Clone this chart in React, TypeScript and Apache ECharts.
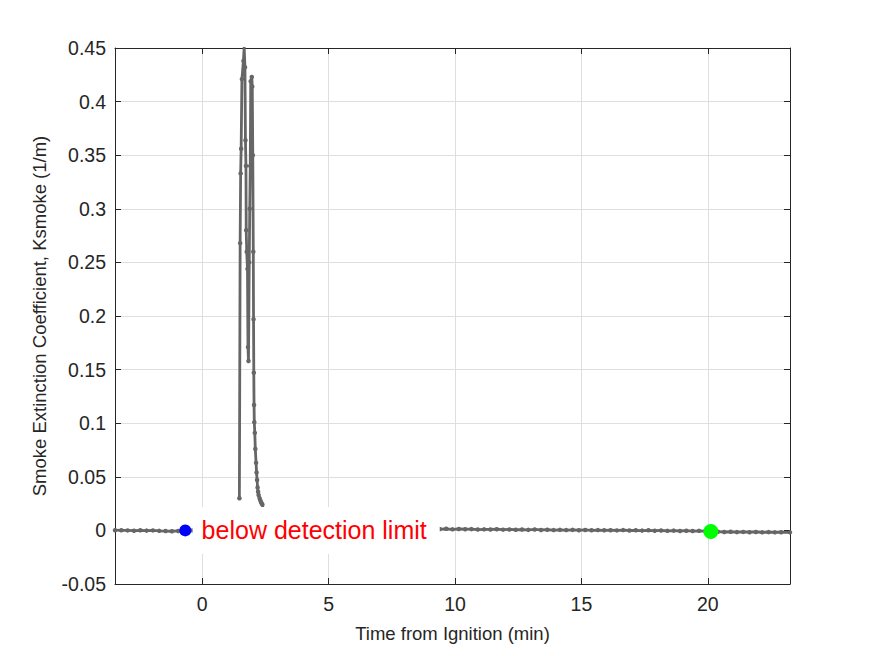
import React, { useEffect, useRef } from "react";
import * as echarts from "echarts";

// Time from ignition (min) and smoke extinction coefficient Ksmoke (1/m)
const preTime = [-3.45, -3.2, -2.95, -2.7, -2.45, -2.2, -1.95, -1.7, -1.45, -1.2, -0.95, -0.67, -0.4, 0.0, 0.5, 1.0, 1.45];
const preK = [0.0002, 0.0001, 0.0, -0.0003, 0.0001, -0.0002, 0.0, -0.0004, -0.0006, -0.0008, -0.0005, -0.0003, 0.0, 0.0, 0.0002, 0.0001, 0.0];

const peakTime = [1.47, 1.5, 1.52, 1.54, 1.57, 1.63, 1.66, 1.69, 1.71, 1.73, 1.74, 1.76, 1.79, 1.81, 1.83, 1.86, 1.88, 1.9, 1.92, 1.96, 1.98, 2.0, 2.02, 2.03, 2.04, 2.05, 2.06, 2.08, 2.1, 2.13, 2.15, 2.17, 2.19, 2.21, 2.23, 2.27, 2.3, 2.33, 2.36, 2.38];
const peakK = [0.03, 0.268, 0.333, 0.356, 0.421, 0.438, 0.451, 0.432, 0.364, 0.34, 0.28, 0.26, 0.244, 0.171, 0.158, 0.25, 0.3, 0.34, 0.419, 0.423, 0.414, 0.35, 0.26, 0.197, 0.147, 0.117, 0.101, 0.091, 0.076, 0.063, 0.054, 0.047, 0.04, 0.036, 0.033, 0.03, 0.028, 0.026, 0.025, 0.024];

const postTime = [2.45, 2.6, 2.8, 3.2, 4.0, 5.0, 6.0, 7.0, 8.0, 9.0, 9.4, 9.65, 9.9, 10.15, 10.4, 10.65, 10.9, 11.15, 11.4, 11.65, 11.9, 12.15, 12.4, 12.65, 12.9, 13.15, 13.4, 13.65, 13.9, 14.15, 14.4, 14.65, 14.9, 15.15, 15.4, 15.65, 15.9, 16.15, 16.4, 16.65, 16.9, 17.15, 17.4, 17.65, 17.9, 18.15, 18.4, 18.65, 18.9, 19.15, 19.4, 19.65, 19.9, 20.12, 20.4, 20.65, 20.9, 21.15, 21.4, 21.65, 21.9, 22.15, 22.4, 22.65, 22.9, 23.25];
const postK = [0.012, 0.005, 0.002, 0.001, 0.0, 0.0005, 0.0, 0.001, 0.0005, 0.001, 0.0012, 0.0015, 0.001, 0.0013, 0.0011, 0.0012, 0.0008, 0.001, 0.0009, 0.0011, 0.0007, 0.0009, 0.0006, 0.0008, 0.0005, 0.0009, 0.0004, 0.0006, 0.0003, 0.0005, 0.0003, 0.0005, 0.0002, 0.0004, 0.0001, 0.0003, 0.0001, 0.0002, 0.0, 0.0003, -0.0001, 0.0001, -0.0002, 0.0001, -0.0003, -0.0001, -0.0004, -0.0002, -0.0005, -0.0003, -0.0006, -0.0004, -0.0007, -0.0008, -0.0012, -0.0015, -0.0013, -0.0016, -0.0014, -0.0017, -0.0015, -0.0018, -0.0016, -0.0018, -0.0017, -0.0018];

const startPoint = [-0.67, 0.0];
const endPoint = [20.12, -0.001];
const notePoint = [-0.38, 0.0];
const noteText = "below detection limit";

const xMin = -3.45;
const xMax = 23.25;
const yMin = -0.05;
const yMax = 0.45;
const yStep = 0.05;

const FONT = "'Liberation Sans', Arial, Helvetica, sans-serif";
const AXIS = "#262626";

export default function App() {
  const ref = useRef<HTMLDivElement>(null);

  useEffect(() => {
    document.body.style.margin = "0";
    if (!ref.current) return;
    const chart = echarts.init(ref.current, undefined, { renderer: "svg" });

    const lineData: any[] = [];
    preTime.forEach((t, i) => lineData.push([t, preK[i]]));
    lineData.push([1.46, "-"]);
    peakTime.forEach((t, i) => lineData.push([t, peakK[i]]));
    postTime.forEach((t, i) => lineData.push([t, postK[i]]));

    const baseX = {
      type: "value",
      min: xMin,
      max: xMax,
      splitNumber: 5,
    };
    const baseY = {
      type: "value",
      min: yMin,
      max: yMax,
      interval: yStep,
    };

    chart.setOption({
      animation: false,
      backgroundColor: "#fff",
      textStyle: { fontFamily: FONT },
      grid: { left: 115, right: 85, top: 48, bottom: 72, containLabel: false },
      xAxis: [
        {
          ...baseX,
          position: "bottom",
          name: "Time from Ignition (min)",
          nameLocation: "middle",
          nameGap: 40,
          nameTextStyle: { fontSize: 18.5, color: AXIS, fontFamily: FONT },
          axisLine: { show: true, onZero: false, lineStyle: { color: AXIS, width: 1 } },
          axisTick: { show: true, inside: true, length: 6, lineStyle: { color: AXIS } },
          axisLabel: {
            show: true,
            margin: 10,
            fontSize: 19.5,
            color: AXIS,
            fontFamily: FONT,
            showMinLabel: false,
            showMaxLabel: false,
            formatter: (v: number) => (Math.abs(v % 5) < 1e-9 ? String(v) : ""),
          },
          splitLine: { show: true, lineStyle: { color: "#dfdfdf", width: 1 } },
        },
        {
          ...baseX,
          position: "top",
          axisLine: { show: true, onZero: false, lineStyle: { color: AXIS, width: 1 } },
          axisTick: { show: true, inside: true, length: 6, lineStyle: { color: AXIS } },
          axisLabel: { show: false },
          splitLine: { show: false },
        },
      ],
      yAxis: [
        {
          ...baseY,
          position: "left",
          name: "Smoke Extinction Coefficient, Ksmoke (1/m)",
          nameLocation: "middle",
          nameGap: 66,
          nameTextStyle: { fontSize: 18.5, color: AXIS, fontFamily: FONT },
          axisLine: { show: true, onZero: false, lineStyle: { color: AXIS, width: 1 } },
          axisTick: { show: true, inside: true, length: 6, lineStyle: { color: AXIS } },
          axisLabel: { show: true, margin: 9, fontSize: 19.5, color: AXIS, fontFamily: FONT },
          splitLine: { show: true, lineStyle: { color: "#dfdfdf", width: 1 } },
        },
        {
          ...baseY,
          position: "right",
          axisLine: { show: true, onZero: false, lineStyle: { color: AXIS, width: 1 } },
          axisTick: { show: true, inside: true, length: 6, lineStyle: { color: AXIS } },
          axisLabel: { show: false },
          splitLine: { show: false },
        },
      ],
      series: [
        {
          type: "line",
          xAxisIndex: 0,
          yAxisIndex: 0,
          data: lineData,
          z: 2,
          showSymbol: true,
          symbol: "circle",
          symbolSize: 4.5,
          itemStyle: { color: "#666666" },
          lineStyle: { color: "#666666", width: 2.8 },
          connectNulls: false,
          clip: true,
        },
        {
          type: "scatter",
          xAxisIndex: 0,
          yAxisIndex: 0,
          z: 4,
          data: [startPoint],
          symbol: "circle",
          symbolSize: 12,
          itemStyle: { color: "#0000ff", opacity: 1 },
        },
        {
          type: "scatter",
          xAxisIndex: 0,
          yAxisIndex: 0,
          z: 4,
          data: [endPoint],
          symbol: "circle",
          symbolSize: 15,
          itemStyle: { color: "#00ff00", opacity: 1 },
        },
        {
          type: "scatter",
          xAxisIndex: 0,
          yAxisIndex: 0,
          z: 6,
          data: [notePoint],
          symbolSize: 0,
          silent: true,
          itemStyle: { opacity: 1 },
          label: {
            show: true,
            position: "right",
            distance: 0,
            formatter: noteText,
            color: "#ff0000",
            opacity: 1,
            fontSize: 25,
            fontFamily: FONT,
            backgroundColor: "#ffffff",
            padding: [13, 13, 9, 9],
          },
        },
      ],
    });

    return () => chart.dispose();
  }, []);

  return <div ref={ref} style={{ width: 875, height: 656 }} />;
}
